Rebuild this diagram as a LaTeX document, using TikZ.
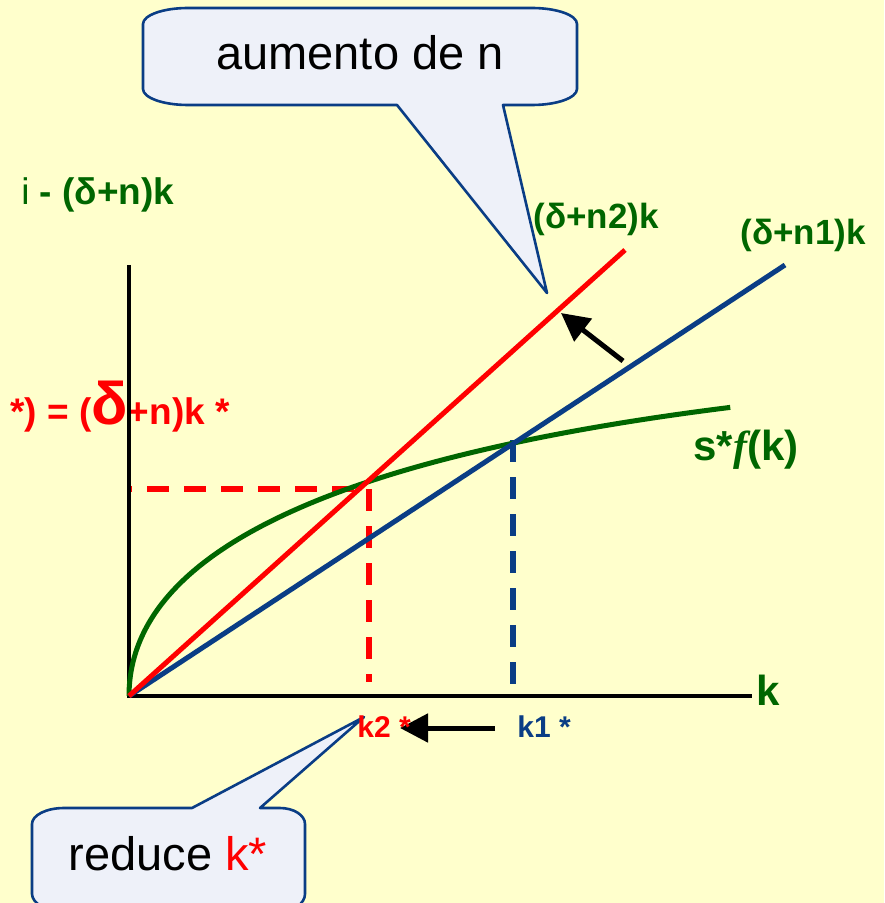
\documentclass[tikz,border=0pt]{standalone}
\usepackage{fontspec}
\setmainfont{Liberation Sans}
\newfontfamily\timesfont{Liberation Serif}
\usepackage{tikz}
\usetikzlibrary{arrows.meta, positioning}
\definecolor{kpaper}{HTML}{FFFFCC}
\definecolor{kgreen}{HTML}{006600}
\definecolor{kred}{HTML}{FF0000}
\definecolor{kblue}{HTML}{0A3D85}
\definecolor{kbubble}{HTML}{EEF1F9}

\begin{document}
\begin{tikzpicture}[x=0.5pt, y=-0.5pt,
    lbl/.style={font=\bfseries\fontsize{17.5}{20}\selectfont, text=kgreen, inner sep=0pt, anchor=base west},
    curve/.style={line width=2.5pt},
    axisline/.style={line width=2.2pt, black},
    dashline/.style={line width=3pt, dash pattern=on 11pt off 7.5pt},
    shiftarrow/.style={-{Triangle[length=14pt, width=14pt]}, line width=2.5pt, black},
    bubble/.style={draw=kblue, fill=kbubble, line width=1.3pt, line join=round},
    bubbletext/.style={font=\fontsize{23.5}{28}\selectfont, inner sep=0pt, anchor=base}]

  %% background
  \fill[kpaper] (0,0) rectangle (884,903);
  \useasboundingbox (0,0) rectangle (884,903);

  %% key points
  \coordinate (O) at (129,696);
  \coordinate (ytop) at (129,265);
  \coordinate (xend) at (752,696);
  \coordinate (redend) at (625,250);
  \coordinate (blueend) at (785,265);
  \coordinate (E2) at (369,489);
  \coordinate (E1) at (513,440);

  %% equilibrium label (under the axis)
  \node[lbl, font=\bfseries\fontsize{18.5}{20}\selectfont, text=kred] (eqlab) at (10,424)
    {*) = ({\fontsize{30}{30}\selectfont δ}+n)k *};

  %% dashed guides
  \draw[dashline, kred, dash phase=9pt] (128,489) -- (E2);
  \draw[dashline, kred] (E2) -- (369,682);
  \draw[dashline, kblue] (E1) -- (513,685);

  %% axes
  \draw[axisline] (ytop) -- (129,698);
  \draw[axisline] (127,696) -- (xend);

  %% s*f(k), drawn with k = t^2
  \draw[curve, kgreen] plot[domain=0:24.52, samples=80, smooth]
    ({129+\x*\x}, {696-17.41*\x+0.23*\x*\x});

  %% investment lines
  \draw[curve, kblue] (O) -- (blueend);
  \draw[curve, kred] (O) -- (redend);

  %% shift arrows
  \coordinate (kfrom) at (495,728);
  \coordinate (kto) at (400,728);
  \draw[shiftarrow] (kfrom) -- (kto);
  \coordinate (lfrom) at (623,361);
  \coordinate (lto) at (561,313);
  \draw[shiftarrow] (lfrom) -- (lto);

  %% callout: aumento de n
  \draw[bubble] (143,24) -- (143,89) .. controls (143,97.8) and (163.1,105) .. (188,105)
    -- (397,105) -- (547,293) -- (503,105) -- (532,105)
    .. controls (556.9,105) and (577,97.8) .. (577,89) -- (577,24)
    .. controls (577,15.2) and (556.9,8) .. (532,8) -- (188,8)
    .. controls (163.1,8) and (143,15.2) .. (143,24) -- cycle;
  \node[bubbletext] (aumento) at (360,70) {aumento de n};

  %% callout: reduce k*
  \draw[bubble] (32,824) -- (32,894) .. controls (32,903) and (46.3,912) .. (64,912)
    -- (280,912) .. controls (293.8,912) and (305,903) .. (305,894) -- (305,824)
    .. controls (305,815.2) and (293.8,808) .. (280,808) -- (260,808) -- (364,717)
    -- (192,808) -- (64,808) .. controls (46.3,808) and (32,815.2) .. (32,824) -- cycle;
  \node[bubbletext] (reduce) at (168,870) {reduce \textcolor{kred}{k*}};

  %% labels
  \node[lbl, font=\bfseries\fontsize{18.5}{20}\selectfont] (ylab) at (21,205)
    {\mdseries i\bfseries{} - (δ+n)k};
  \node[lbl] (n2lab) at (533,229) {(δ+n2)k};
  \node[lbl] (n1lab) at (740,245) {(δ+n1)k};
  \node[lbl, font=\bfseries\fontsize{21}{24}\selectfont] (sflab) at (693,460)
    {s*{\timesfont\itshape f}(k)};
  \node[lbl, font=\bfseries\fontsize{21}{24}\selectfont] (klab) at (756,705) {k};
  \node[lbl, font=\bfseries\fontsize{15}{18}\selectfont, text=kred] (k2lab) at (357,737) {k2 *};
  \node[lbl, font=\bfseries\fontsize{15}{18}\selectfont, text=kblue] (k1lab) at (517,737) {k1 *};

\end{tikzpicture}
\end{document}
